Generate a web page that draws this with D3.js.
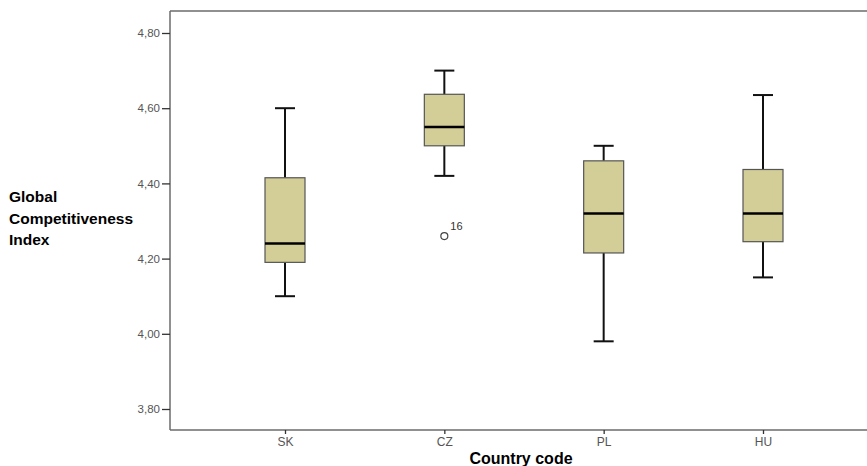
<!DOCTYPE html>
<html>
<head>
<meta charset="utf-8">
<script src="https://cdn.jsdelivr.net/npm/d3@7"></script>
<style>
  body { margin: 0; background: #fff; overflow: hidden; }
  svg { display: block; font-family: "Liberation Sans", Arial, sans-serif; }
</style>
</head>
<body>
<svg id="chart" width="867" height="466"></svg>
<script>
// box plot values
var countries = ['SK', 'CZ', 'PL', 'HU'];
var whiskerLow = [4.10, 4.42, 3.98, 4.15];
var q1 = [4.19, 4.50, 4.215, 4.245];
var median = [4.24, 4.55, 4.32, 4.32];
var q3 = [4.415, 4.637, 4.46, 4.437];
var whiskerHigh = [4.60, 4.70, 4.50, 4.635];
var outliers = [{ country: 'CZ', value: 4.26, label: '16' }];
var yTicks = [3.80, 4.00, 4.20, 4.40, 4.60, 4.80];

var svg = d3.select('#chart');
var plotLeft = 170, plotTop = 11, plotBottom = 430, plotRight = 867;

var y = d3.scaleLinear().domain([3.80, 4.80]).range([409, 33]);
var x = d3.scalePoint().domain(countries).range([285, 763]);

var boxW = 40, capW = 20;
var fmt = function (d) { return d3.format('.2f')(d).replace('.', ','); };

// frame: top, left and bottom only
var frame = svg.append('g').attr('stroke', '#6b6b6b').attr('stroke-width', 1.5);
frame.append('line').attr('x1', plotLeft).attr('x2', plotRight).attr('y1', plotTop).attr('y2', plotTop);
frame.append('line').attr('x1', plotLeft).attr('x2', plotRight).attr('y1', plotBottom).attr('y2', plotBottom);
frame.append('line').attr('x1', plotLeft).attr('x2', plotLeft).attr('y1', plotTop).attr('y2', plotBottom);

// y axis
var yAxis = svg.append('g')
    .attr('transform', 'translate(' + plotLeft + ',0)')
    .call(d3.axisLeft(y).tickValues(yTicks).tickFormat(fmt).tickSize(8).tickPadding(2));
yAxis.select('.domain').remove();
yAxis.selectAll('line').attr('stroke', '#333').attr('stroke-width', 1.3);
yAxis.selectAll('text').attr('fill', '#555').style('font-size', '11.5px');

// x axis
var xAxis = svg.append('g')
    .attr('transform', 'translate(0,' + plotBottom + ')')
    .call(d3.axisBottom(x).tickSize(4).tickPadding(3));
xAxis.select('.domain').remove();
xAxis.selectAll('line').attr('stroke', '#333').attr('stroke-width', 1.3);
xAxis.selectAll('text').attr('fill', '#555').style('font-size', '12px');

// titles
svg.append('text')
    .attr('x', 521).attr('y', 464)
    .attr('text-anchor', 'middle')
    .style('font-size', '16px').style('font-weight', 'bold')
    .text('Country code');

var ytitle = ['Global', 'Competitiveness', 'Index'];
svg.append('g').selectAll('text').data(ytitle).join('text')
    .attr('x', 9)
    .attr('y', function (d, i) { return 202 + i * 21.5; })
    .style('font-size', '15.5px').style('font-weight', 'bold')
    .text(function (d) { return d; });

// boxes
var g = svg.append('g').selectAll('g').data(countries).join('g');

g.append('line')
    .attr('x1', function (d) { return x(d); })
    .attr('x2', function (d) { return x(d); })
    .attr('y1', function (d, i) { return y(whiskerHigh[i]); })
    .attr('y2', function (d, i) { return y(q3[i]); })
    .attr('stroke', '#111').attr('stroke-width', 2);
g.append('line')
    .attr('x1', function (d) { return x(d); })
    .attr('x2', function (d) { return x(d); })
    .attr('y1', function (d, i) { return y(q1[i]); })
    .attr('y2', function (d, i) { return y(whiskerLow[i]); })
    .attr('stroke', '#111').attr('stroke-width', 2);
[whiskerHigh, whiskerLow].forEach(function (arr) {
    g.append('line')
        .attr('x1', function (d) { return x(d) - capW / 2; })
        .attr('x2', function (d) { return x(d) + capW / 2; })
        .attr('y1', function (d, i) { return y(arr[i]); })
        .attr('y2', function (d, i) { return y(arr[i]); })
        .attr('stroke', '#111').attr('stroke-width', 2);
});

g.append('rect')
    .attr('x', function (d) { return x(d) - boxW / 2; })
    .attr('y', function (d, i) { return y(q3[i]); })
    .attr('width', boxW)
    .attr('height', function (d, i) { return y(q1[i]) - y(q3[i]); })
    .attr('fill', '#d3cd97')
    .attr('stroke', '#555').attr('stroke-width', 1.2);

g.append('line')
    .attr('x1', function (d) { return x(d) - boxW / 2; })
    .attr('x2', function (d) { return x(d) + boxW / 2; })
    .attr('y1', function (d, i) { return y(median[i]); })
    .attr('y2', function (d, i) { return y(median[i]); })
    .attr('stroke', '#000').attr('stroke-width', 2.5);

// outliers
var o = svg.append('g').selectAll('g').data(outliers).join('g');
o.append('circle')
    .attr('cx', function (d) { return x(d.country); })
    .attr('cy', function (d) { return y(d.value); })
    .attr('r', 3.5)
    .attr('fill', 'none').attr('stroke', '#444').attr('stroke-width', 1.2);
o.append('text')
    .attr('x', function (d) { return x(d.country) + 6; })
    .attr('y', function (d) { return y(d.value) - 6; })
    .style('font-size', '11px').attr('fill', '#333')
    .text(function (d) { return d.label; });
</script>
</body>
</html>
